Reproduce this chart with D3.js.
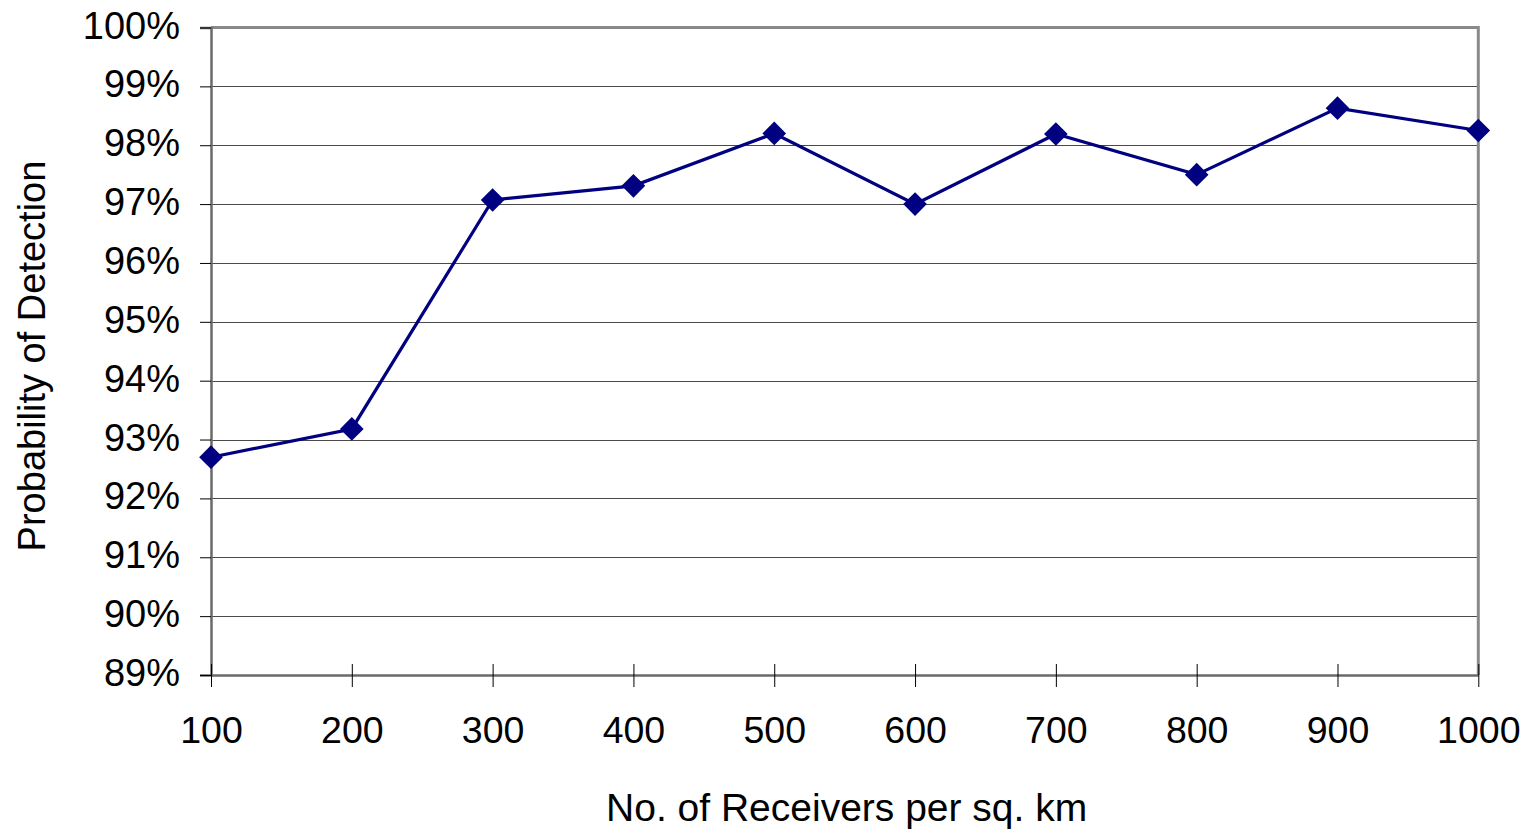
<!DOCTYPE html>
<html>
<head>
<meta charset="utf-8">
<script src="https://cdn.jsdelivr.net/npm/d3@7"></script>
<style>
  html, body { margin: 0; padding: 0; background: #fff; }
  svg { display: block; font-family: "Liberation Sans", Arial, sans-serif; }
</style>
</head>
<body>
<svg id="chart" width="1532" height="830"></svg>
<script>
const receivers = [100, 200, 300, 400, 500, 600, 700, 800, 900, 1000];
const detection = [92.70, 93.18, 97.07, 97.31, 98.20, 97.00, 98.19, 97.50, 98.63, 98.25];
const yTicks = [89, 90, 91, 92, 93, 94, 95, 96, 97, 98, 99, 100];
const xTitle = "No. of Receivers per sq. km";
const yTitle = "Probability of Detection";

const svg = d3.select("#chart");
const L = 211, R = 1478.3, T = 27.5, B = 675;

const x = d3.scalePoint().domain(receivers).range([L, R]);
const y = d3.scaleLinear().domain([89, 100]).range([B, T]);

// gridlines
svg.append("g").selectAll("line").data(yTicks.filter(d => d > 89 && d < 100)).join("line")
  .attr("x1", L).attr("x2", R)
  .attr("y1", d => Math.round(y(d)) + 0.5).attr("y2", d => Math.round(y(d)) + 0.5)
  .attr("stroke", "#4a4a4a").attr("stroke-width", 1.2);

// frame top/right
svg.append("path")
  .attr("d", `M${L},${y(100)}H${R}V${B}`)
  .attr("fill", "none").attr("stroke", "#8a8a8a").attr("stroke-width", 3);

// y axis
const yAxis = d3.axisLeft(y).tickValues(yTicks).tickSize(11).tickFormat(d => d + "%");
const gy = svg.append("g").attr("transform", `translate(${L},0)`).call(yAxis);
gy.select(".domain").attr("stroke", "#6a6a6a").attr("stroke-width", 2.5);
gy.selectAll(".tick line").attr("stroke", "#000").attr("stroke-width", 1);
gy.selectAll(".tick text")
  .attr("x", -31).attr("dy", null).attr("y", 10.5)
  .attr("fill", "#000").attr("font-size", 38)
  .attr("font-family", "'Liberation Sans', Arial, sans-serif");

// x axis
const xAxis = d3.axisBottom(x).tickSize(12).tickSizeOuter(0);
const gx = svg.append("g").attr("transform", `translate(0,${B})`).call(xAxis);
gx.select(".domain").attr("stroke", "#6a6a6a").attr("stroke-width", 2.5);
gx.selectAll(".tick line").attr("stroke", "#000").attr("stroke-width", 1).attr("y1", -11);
gx.selectAll(".tick text")
  .attr("y", 68).attr("dy", null)
  .attr("fill", "#000").attr("font-size", 37.5)
  .attr("font-family", "'Liberation Sans', Arial, sans-serif");

// line
const line = d3.line().x((d, i) => x(receivers[i])).y(d => y(d));
svg.append("path").datum(detection)
  .attr("d", line).attr("fill", "none")
  .attr("stroke", "#000080").attr("stroke-width", 3.2);

// diamond markers
const sym = d3.symbol().type(d3.symbolSquare).size(280);
svg.append("g").selectAll("path").data(detection).join("path")
  .attr("d", sym)
  .attr("transform", (d, i) => `translate(${x(receivers[i])},${y(d)}) rotate(45)`)
  .attr("fill", "#000080");

// titles
svg.append("text")
  .attr("x", (L + R) / 2 + 2).attr("y", 820.5)
  .attr("text-anchor", "middle").attr("font-size", 39).attr("fill", "#000")
  .text(xTitle);

svg.append("text")
  .attr("transform", `translate(45,356) rotate(-90)`)
  .attr("text-anchor", "middle").attr("font-size", 38).attr("fill", "#000")
  .text(yTitle);
</script>
</body>
</html>
